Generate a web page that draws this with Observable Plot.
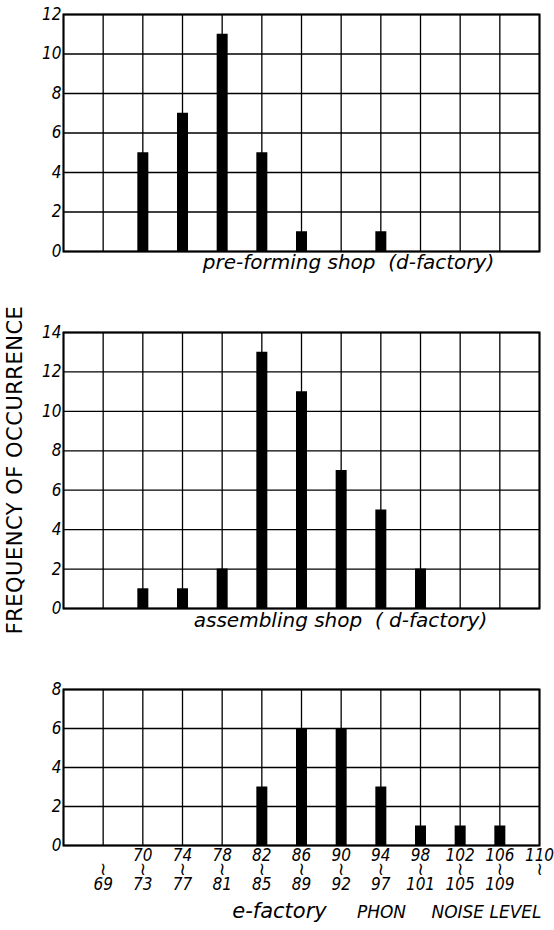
<!DOCTYPE html>
<html>
<head>
<meta charset="utf-8">
<script src="https://cdn.jsdelivr.net/npm/d3@7"></script>
<script src="https://cdn.jsdelivr.net/npm/@observablehq/plot@0.6"></script>
<style>
  html, body { margin: 0; padding: 0; background: #fff; }
  #root { position: relative; width: 554px; height: 930px; overflow: hidden; background: #fff; }
  #root svg { position: absolute; left: 0; }
  #ylabel {
    position: absolute; left: 15px; top: 470px; width: 0; height: 0;
  }
  #ylabel span {
    position: absolute; left: 0; top: 0; white-space: nowrap;
    transform: translate(-50%, -50%) rotate(-90deg);
    font-family: 'DejaVu Sans', sans-serif; font-size: 21px; color: #000;
    letter-spacing: 0.5px;
  }
</style>
</head>
<body>
<div id="root"><div id="ylabel"><span></span></div></div>
<script>
// Noise-level classes (PHON); slot 1..12 sit on the vertical grid lines
const slots = [1, 2, 3, 4, 5, 6, 7, 8, 9, 10, 11, 12];
const lowLabels  = ["", "70", "74", "78", "82", "86", "90", "94", "98", "102", "106", "110"];
const highLabels = ["69", "73", "77", "81", "85", "89", "92", "97", "101", "105", "109", ""];

// Frequency of occurrence per class
const preFormingShop = [0, 5, 7, 11, 5, 1, 0, 1, 0, 0, 0, 0];
const assemblingShop = [0, 1, 1, 2, 13, 11, 7, 5, 2, 0, 0, 0];
const eFactory       = [0, 0, 0, 0, 3, 6, 6, 3, 1, 1, 1, 0];

// Panel texts
const subtitle1 = "pre-forming shop  (d-factory)";
const subtitle2 = "assembling shop  ( d-factory)";
const yLabel = "FREQUENCY  OF  OCCURRENCE";
const caption3 = ["e-factory", "PHON", "NOISE LEVEL"];

const FONT = "'DejaVu Sans Condensed', 'DejaVu Sans', sans-serif";
const SUBFONT = "'DejaVu Sans', sans-serif";
const root = document.getElementById("root");
document.querySelector("#ylabel span").textContent = yLabel;

function panel({values, yMax, top, marginTop, frameH, marginBottom, extra}) {
  const rows = slots.map((s, i) => ({slot: s, count: values[i]})).filter(d => d.count > 0);
  const chart = Plot.plot({
    width: 554,
    height: marginTop + frameH + marginBottom,
    marginLeft: 63,
    marginRight: 15,
    marginTop,
    marginBottom,
    style: {fontFamily: FONT, fontSize: "16px", background: "transparent", color: "#000"},
    x: {domain: [0, 12], axis: null},
    y: {domain: [0, yMax]},
    marks: [
      Plot.gridX(d3.range(0, 13), {stroke: "#000", strokeOpacity: 1, strokeWidth: 1.3}),
      Plot.gridY(d3.range(0, yMax + 1, 2), {stroke: "#000", strokeOpacity: 1, strokeWidth: 1.3}),
      Plot.frame({stroke: "#000", strokeWidth: 2}),
      Plot.axisY(d3.range(0, yMax + 1, 2), {tickSize: 0, tickPadding: 2, fontSize: 17, fontStyle: "italic", label: null}),
      Plot.ruleX(rows, {x: "slot", y1: 0, y2: "count", stroke: "#000", strokeWidth: 11}),
      ...(extra || [])
    ]
  });
  chart.style.top = top + "px";
  root.appendChild(chart);
}

// Panel 1: pre-forming shop
panel({
  values: preFormingShop, yMax: 12, top: 0, marginTop: 14, frameH: 237, marginBottom: 40,
  extra: [
    Plot.text([subtitle1], {frameAnchor: "bottom", dx: 47, dy: 17, fontSize: 20, fontStyle: "italic", fontFamily: SUBFONT})
  ]
});

// Panel 2: assembling shop
panel({
  values: assemblingShop, yMax: 14, top: 291, marginTop: 41, frameH: 276, marginBottom: 42,
  extra: [
    Plot.text([subtitle2], {frameAnchor: "bottom", dx: 39, dy: 18, fontSize: 20, fontStyle: "italic", fontFamily: SUBFONT})
  ]
});

// Panel 3: e-factory with class labels
panel({
  values: eFactory, yMax: 8, top: 650, marginTop: 39, frameH: 156, marginBottom: 85,
  extra: [
    Plot.text(slots, {x: d => d, text: (d, i) => lowLabels[i], frameAnchor: "bottom", dy: 15, fontSize: 17, fontStyle: "italic"}),
    Plot.text(slots, {x: d => d, text: () => "\u2240", frameAnchor: "bottom", dy: 29, fontSize: 18, fontFamily: SUBFONT}),
    Plot.text(slots, {x: d => d, text: (d, i) => highLabels[i], frameAnchor: "bottom", dy: 44, fontSize: 17, fontStyle: "italic"}),
    Plot.text([caption3[0]], {frameAnchor: "bottom", dx: -22, dy: 72, fontSize: 21, fontStyle: "italic", fontFamily: SUBFONT}),
    Plot.text([caption3[1]], {frameAnchor: "bottom", dx: 80, dy: 72, fontSize: 17, fontStyle: "italic", fontFamily: SUBFONT}),
    Plot.text([caption3[2]], {frameAnchor: "bottom", dx: 185, dy: 72, fontSize: 17, fontStyle: "italic", fontFamily: SUBFONT})
  ]
});
</script>
</body>
</html>
